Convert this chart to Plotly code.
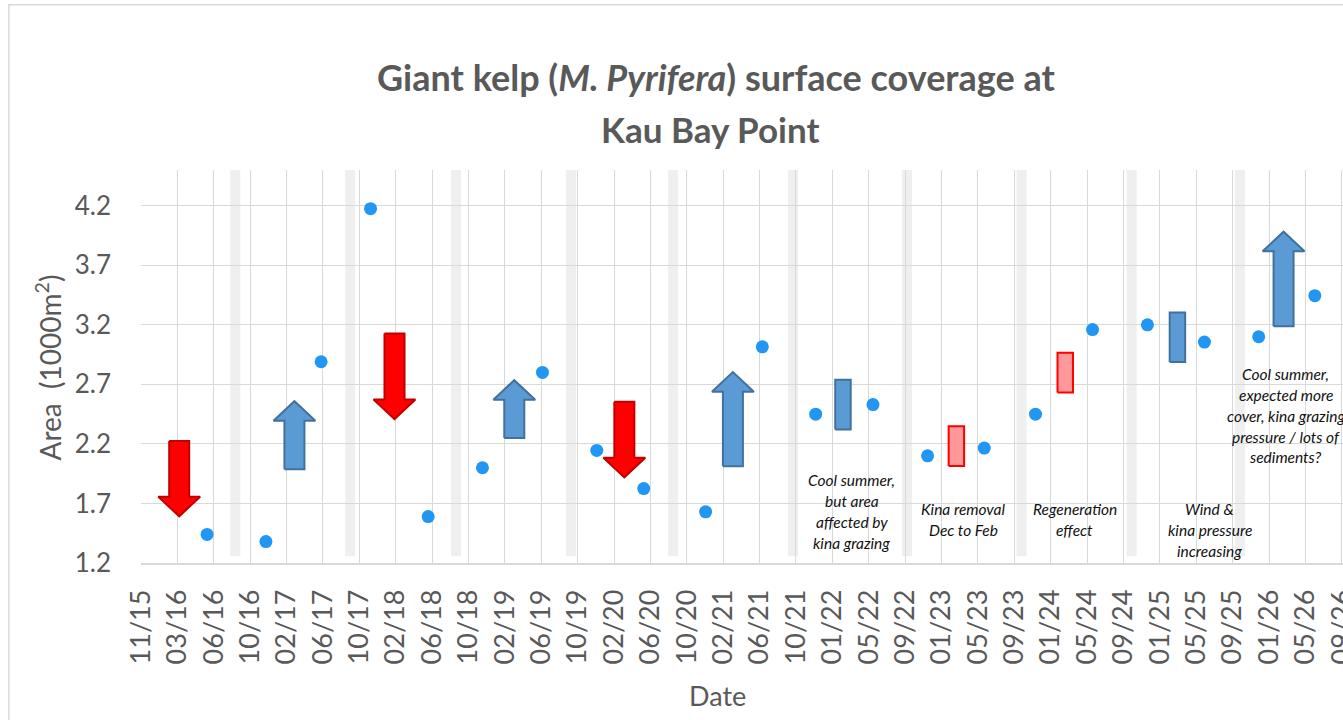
import plotly.graph_objects as go
import pandas as pd

# ---------------- data ----------------
survey_dates = ["2016-06-08", "2016-12-19", "2017-06-19", "2017-11-29", "2018-06-07",
                "2018-12-03", "2019-06-19", "2019-12-15", "2020-05-18", "2020-12-08",
                "2021-06-13", "2021-12-06", "2022-06-13", "2022-12-10", "2023-06-15",
                "2023-12-01", "2024-06-06", "2024-12-04", "2025-06-10", "2025-12-06",
                "2026-06-09"]
kelp_area = [1.44, 1.38, 2.89, 4.175, 1.59,
             2.00, 2.80, 2.145, 1.825, 1.63,
             3.015, 2.45, 2.53, 2.10, 2.165,
             2.45, 3.16, 3.20, 3.055, 3.10,
             3.445]

# light grey seasonal bands
band_dates = ["2016-09-09", "2017-09-23", "2018-09-07", "2019-09-21", "2020-08-23",
              "2021-09-22", "2022-10-03", "2023-10-16", "2024-10-13", "2025-10-05"]
band_low = 1.256
band_high = 4.52

# block arrows: tail value -> tip value
arrow_dates = ["2016-03-08", "2017-03-23", "2018-02-16", "2019-03-18",
               "2020-03-15", "2021-03-08", "2026-02-26"]
arrow_tail = [2.225, 1.987, 3.128, 2.250, 2.553, 2.013, 3.189]
arrow_tip = [1.592, 2.559, 2.408, 2.735, 1.918, 2.803, 3.982]
arrow_kind = ["red", "blue", "red", "blue", "red", "blue", "blue"]

# small bars (no clear trend)
box_dates = ["2022-03-06", "2023-03-15", "2024-03-08", "2025-03-13"]
box_low = [2.321, 2.015, 2.632, 2.887]
box_high = [2.738, 2.349, 2.965, 3.304]
box_kind = ["blue", "pink", "pink", "blue"]

# notes
note_dates = ["2022-04-04", "2023-04-07", "2024-04-09", "2025-06-28", "2026-03-05"]
note_y = [1.895, 1.651, 1.651, 1.651, 2.786]
note_lines = [
    ["Cool summer,", "but area", "affected by", "kina grazing"],
    ["Kina removal", "Dec to Feb"],
    ["Regeneration", "effect"],
    ["Wind &", "kina pressure", "increasing"],
    ["Cool summer,", "expected more", "cover, kina grazing", "pressure / lots of", "sediments?"],
]

tick_labels = ["11/15", "03/16", "06/16", "10/16", "02/17", "06/17", "10/17", "02/18",
               "06/18", "10/18", "02/19", "06/19", "10/19", "02/20", "06/20", "10/20",
               "02/21", "06/21", "10/21", "01/22", "05/22", "09/22", "01/23", "05/23",
               "09/23", "01/24", "05/24", "09/24", "01/25", "05/25", "09/25", "01/26",
               "05/26", "09/26"]
y_ticks = [1.2, 1.7, 2.2, 2.7, 3.2, 3.7, 4.2]

# ---------------- styling ----------------
axis_start = pd.Timestamp("2015-11-03")
axis_end = pd.Timestamp("2026-09-10")
tick_dates = pd.date_range(axis_start, periods=len(tick_labels), freq="120D")

TXT = "#595959"
GRID = "#d9d9d9"
FONT = "Lato"
styles = {
    "red": dict(fill="#ff0000", line="#c00000"),
    "blue": dict(fill="#5b9bd5", line="#41719c"),
    "pink": dict(fill="#ff9999", line="#ff0000"),
}
shaft_w = pd.Timedelta(days=66)
head_w = pd.Timedelta(days=138)
head_len = 0.165
box_w = pd.Timedelta(days=51)
band_w = pd.Timedelta(days=33)

PLOT_TOP, PLOT_BOTTOM, PLOT_LEFT = 170, 562.7, 140.7
PLOT_H = PLOT_BOTTOM - PLOT_TOP
PLOT_W = 1343 - PLOT_LEFT


def px_x(px):
    return (px - PLOT_LEFT) / PLOT_W


def px_y(py):
    return (PLOT_BOTTOM - py) / PLOT_H


fig = go.Figure()

# arrows as filled polygons
for d, t0, t1, k in zip(arrow_dates, arrow_tail, arrow_tip, arrow_kind):
    c = pd.Timestamp(d)
    sgn = 1 if t1 > t0 else -1
    hb = t1 - sgn * head_len
    xs = [c - shaft_w / 2, c + shaft_w / 2, c + shaft_w / 2, c + head_w / 2, c,
          c - head_w / 2, c - shaft_w / 2, c - shaft_w / 2]
    ys = [t0, t0, hb, hb, t1, hb, hb, t0]
    fig.add_trace(go.Scatter(x=xs, y=ys, mode="lines", fill="toself",
                             fillcolor=styles[k]["fill"],
                             line=dict(color=styles[k]["line"], width=2),
                             hoverinfo="skip", showlegend=False))

for d, lo, hi, k in zip(box_dates, box_low, box_high, box_kind):
    c = pd.Timestamp(d)
    xs = [c - box_w / 2, c + box_w / 2, c + box_w / 2, c - box_w / 2, c - box_w / 2]
    ys = [lo, lo, hi, hi, lo]
    fig.add_trace(go.Scatter(x=xs, y=ys, mode="lines", fill="toself",
                             fillcolor=styles[k]["fill"],
                             line=dict(color=styles[k]["line"], width=2),
                             hoverinfo="skip", showlegend=False))

fig.add_trace(go.Scatter(x=survey_dates, y=kelp_area, mode="markers",
                         marker=dict(size=13, color="#2196f3"),
                         name="Area", showlegend=False))

# grey bands
for d in band_dates:
    c = pd.Timestamp(d)
    fig.add_shape(type="rect", xref="x", yref="y", x0=c - band_w / 2, x1=c + band_w / 2,
                  y0=band_low, y1=band_high, fillcolor="#efefef", line_width=0,
                  layer="below")

# notes (one annotation per line)
for d, y, lines in zip(note_dates, note_y, note_lines):
    for i, line in enumerate(lines):
        fig.add_annotation(x=d, y=y, xref="x", yref="y", text=f"<i>{line}</i>",
                           showarrow=False, yshift=-20.8 * i,
                           xanchor="center", yanchor="middle",
                           font=dict(family=FONT, size=15.5, color="#111111"))

# title lines
fig.add_annotation(x=px_x(716), y=px_y(77), xref="paper", yref="paper",
                   xanchor="center", yanchor="middle",
                   text="<b>Giant kelp (<i>M. Pyrifera</i>) surface coverage at</b>",
                   showarrow=False, font=dict(family=FONT, size=36, color=TXT))
fig.add_annotation(x=px_x(710), y=px_y(129), xref="paper", yref="paper",
                   xanchor="center", yanchor="middle",
                   text="<b>Kau Bay Point</b>",
                   showarrow=False, font=dict(family=FONT, size=35, color=TXT))

# axis titles
fig.add_annotation(x=px_x(48), y=px_y(367), xref="paper", yref="paper",
                   xanchor="center", yanchor="middle",
                   text="Area  (1000m<sup>2</sup>)",
                   textangle=-90, showarrow=False,
                   font=dict(family=FONT, size=28, color=TXT))
fig.add_annotation(x=px_x(717), y=px_y(695), xref="paper", yref="paper",
                   xanchor="center", yanchor="middle",
                   text="Date", showarrow=False,
                   font=dict(family=FONT, size=27, color=TXT))

# outer chart border
fig.add_shape(type="rect", xref="paper", yref="paper",
              x0=px_x(8.5), x1=px_x(1360), y0=px_y(740), y1=px_y(5),
              line=dict(color=GRID, width=1.5), fillcolor="rgba(0,0,0,0)")

fig.update_layout(
    width=1343, height=720,
    margin=dict(l=PLOT_LEFT, r=0, t=PLOT_TOP, b=720 - PLOT_BOTTOM),
    paper_bgcolor="white", plot_bgcolor="white",
    font=dict(family=FONT, color=TXT),
    showlegend=False,
    xaxis=dict(type="date", range=[axis_start, axis_end],
               tickvals=tick_dates, ticktext=tick_labels, tickangle=-90,
               tickfont=dict(family=FONT, size=27, color=TXT),
               showgrid=True, gridcolor=GRID, gridwidth=1,
               showline=True, linecolor=GRID, linewidth=1.5,
               ticks="", zeroline=False, automargin=False,
               ticklabelstandoff=14, ticklabeloverflow="allow"),
    yaxis=dict(range=[1.2, 4.5], tickvals=y_ticks,
               ticktext=[f"{v:.1f}" for v in y_ticks],
               tickfont=dict(family=FONT, size=26, color=TXT),
               showgrid=True, gridcolor=GRID, gridwidth=1,
               showline=False, zeroline=False, ticks="", automargin=False,
               ticklabelstandoff=29),
)

fig.write_html("out.html",
               config={"displayModeBar": False},
               post_script="document.body.style.margin='0';"
                           "document.body.style.overflow='hidden';")
